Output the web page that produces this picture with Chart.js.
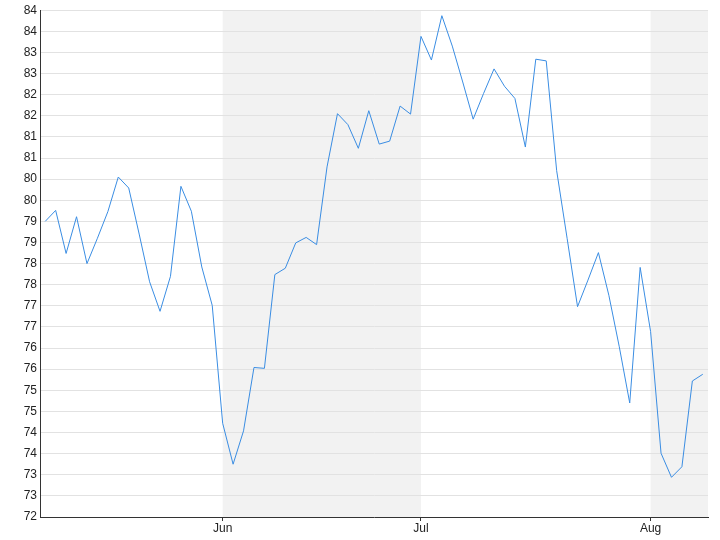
<!DOCTYPE html>
<html>
<head>
<meta charset="utf-8">
<script src="https://cdn.jsdelivr.net/npm/chart.js@4.4.1/dist/chart.umd.min.js"></script>
<style>
  html, body { margin: 0; padding: 0; background: #fff; }
  #wrap { width: 720px; height: 540px; }
</style>
</head>
<body>
<div id="wrap"><canvas id="chart" width="720" height="540"></canvas></div>
<script>
// trading days per month shown on the axis
var months = ['May', 'Jun', 'Jul', 'Aug'];
var daysPerMonth = [17, 19, 22, 6];
var shadedMonths = ['Jun', 'Aug'];

var prices = [
  79.0, 79.26, 78.24, 79.11, 78.0, 78.6, 79.23, 80.05, 79.79, 78.7,
  77.57, 76.87, 77.7, 79.83, 79.24, 77.92, 77.01,
  74.22, 73.25, 74.04, 75.54, 75.52, 77.74, 77.89, 78.49, 78.62, 78.45,
  80.29, 81.55, 81.29, 80.73, 81.62, 80.83, 80.9, 81.73, 81.54,
  83.38, 82.82, 83.87, 83.15, 82.3, 81.42, 82.03, 82.61, 82.2, 81.91,
  80.76, 82.84, 82.8, 80.2, 78.6, 76.98, 77.61, 78.26, 77.25, 76.03,
  74.7, 77.91,
  76.39, 73.51, 72.94, 73.19, 75.22, 75.38
];

var yMin = 72, yMax = 84, yStep = 0.5;

// category labels, one per trading day
var labels = [];
var monthStart = {};
months.forEach(function (m, i) {
  monthStart[labels.length] = m;
  for (var d = 1; d <= daysPerMonth[i]; d++) labels.push(m + ' ' + d);
});

// grey band behind every other month
var bands = {
  id: 'bands',
  beforeDraw: function (chart) {
    var ctx = chart.ctx, area = chart.chartArea, x = chart.scales.x;
    var starts = Object.keys(monthStart).map(Number);
    ctx.save();
    ctx.fillStyle = '#f2f2f2';
    starts.forEach(function (s, i) {
      if (shadedMonths.indexOf(monthStart[s]) < 0) return;
      var x0 = x.getPixelForValue(s);
      var x1 = i + 1 < starts.length ? x.getPixelForValue(starts[i + 1]) : area.right;
      ctx.fillRect(x0, area.top, x1 - x0, area.bottom - area.top);
    });
    ctx.restore();
  }
};

new Chart(document.getElementById('chart'), {
  type: 'line',
  data: {
    labels: labels,
    datasets: [{
      data: prices,
      borderColor: '#3a8de3',
      borderWidth: 1,
      pointRadius: 0,
      tension: 0,
      fill: false
    }]
  },
  options: {
    responsive: false,
    animation: false,
    layout: { padding: { top: 10, right: 12, left: 0, bottom: 0 } },
    plugins: { legend: { display: false }, tooltip: { enabled: false } },
    scales: {
      x: {
        type: 'category',
        offset: true,
        grid: { drawOnChartArea: false, drawTicks: true, tickLength: 4, color: '#333' },
        border: { color: '#333', width: 1 },
        ticks: {
          autoSkip: false,
          maxRotation: 0,
          padding: 0,
          color: '#222',
          font: { family: 'Liberation Sans, Arial, sans-serif', size: 12 },
          callback: function (value) { return monthStart[value] || ''; }
        },
        afterBuildTicks: function (scale) {
          scale.ticks = scale.ticks.filter(function (t) { return t.value > 0 && monthStart[t.value]; });
        },
        afterFit: function (scale) { scale.height = 23; }
      },
      y: {
        min: yMin,
        max: yMax,
        grid: { color: '#e2e2e2', drawTicks: false },
        border: { color: '#333', width: 1 },
        ticks: {
          stepSize: yStep,
          padding: 3,
          color: '#222',
          font: { family: 'Liberation Sans, Arial, sans-serif', size: 12 },
          callback: function (v) { return Math.round(v); }
        },
        afterFit: function (scale) { scale.width = 40; }
      }
    }
  },
  plugins: [bands]
});
</script>
</body>
</html>
